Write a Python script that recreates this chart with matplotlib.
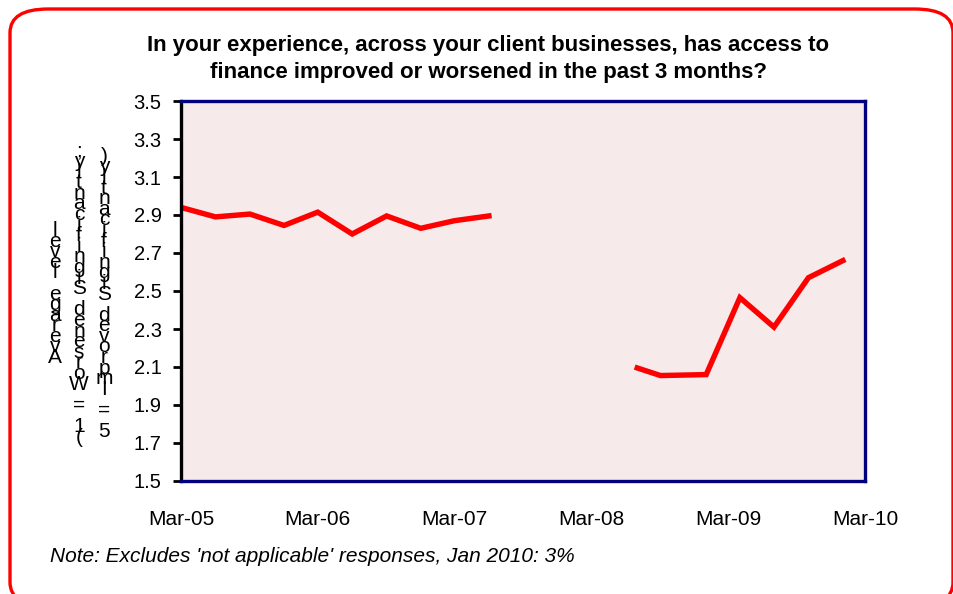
import matplotlib
matplotlib.use('Agg')
import matplotlib.pyplot as plt
from matplotlib.patches import FancyBboxPatch
import pandas as pd

plt.rcParams['font.family'] = ['Liberation Sans', 'DejaVu Sans']

# survey waves before the gap
dates_early = ['2005-03-01', '2005-06-01', '2005-09-01', '2005-12-01', '2006-03-01',
               '2006-06-01', '2006-09-01', '2006-12-01', '2007-03-01', '2007-06-01']
score_early = [2.94, 2.89, 2.905, 2.845, 2.915, 2.80, 2.895, 2.83, 2.87, 2.895]

# survey waves after the gap
dates_late = ['2008-07-01', '2008-09-01', '2009-01-01', '2009-04-01',
              '2009-07-01', '2009-10-01', '2010-01-01']
score_late = [2.095, 2.055, 2.06, 2.465, 2.31, 2.57, 2.66]

year_ticks = ['2005-03-01', '2006-03-01', '2007-03-01', '2008-03-01', '2009-03-01', '2010-03-01']
year_labels = ['Mar-05', 'Mar-06', 'Mar-07', 'Mar-08', 'Mar-09', 'Mar-10']

title = ('In your experience, across your client businesses, has access to\n'
         'finance improved or worsened in the past 3 months?')
note = "Note: Excludes 'not applicable' responses, Jan 2010: 3%"
ylabel_cols = ['Average level', '(1 = Worsened Significantly;', '5 = Improved Significantly)']

W, H = 954, 594
fig = plt.figure(figsize=(W / 100, H / 100), dpi=100)

# red rounded frame around the whole chart
frame = FancyBboxPatch((10 / W, 1 - 606 / H), 943 / W, 597 / H,
                       boxstyle='round,pad=0,rounding_size=0.04',
                       transform=fig.transFigure, fill=False,
                       edgecolor='#ff0000', linewidth=2.4, clip_on=True)
fig.add_artist(frame)

ax = fig.add_axes([181 / W, 1 - 481 / H, (865 - 181) / W, (481 - 101) / H])
ax.set_facecolor('#f7eaea')

navy = '#000080'
ax.plot(pd.to_datetime(dates_early), score_early, color='#ff0000', lw=3.9,
        solid_joinstyle='miter')
ax.plot(pd.to_datetime(dates_late), score_late, color='#ff0000', lw=3.9,
        solid_joinstyle='miter')

ax.set_xlim(pd.Timestamp(year_ticks[0]), pd.Timestamp(year_ticks[-1]))
ax.set_ylim(1.5, 3.5)
ax.set_yticks([1.5 + 0.2 * i for i in range(11)])
ax.yaxis.set_major_formatter(matplotlib.ticker.FormatStrFormatter('%.1f'))
ax.set_xticks(pd.to_datetime(year_ticks))
ax.set_xticklabels(year_labels)

ax.tick_params(axis='y', direction='out', length=6, width=2, color='black',
               labelsize=14.5, pad=8)
ax.tick_params(axis='x', length=0, labelsize=15, pad=21)

for side in ['top', 'right', 'bottom']:
    ax.spines[side].set_color(navy)
    ax.spines[side].set_linewidth(2.4)
ax.spines['left'].set_color('black')
ax.spines['left'].set_linewidth(2.4)

fig.text(488 / W, 1 - 59 / H, title, ha='center', va='center',
         fontsize=16, fontweight='bold', linespacing=1.38)

fig.text(50 / W, 1 - 557 / H, note, ha='left', va='center',
         fontsize=15, style='italic')

# y label written as stacked letters, first letter at the bottom
step = 10.6 / H
yc = 1 - 294 / H
for xpix, label in zip([55, 79, 104], ylabel_cols):
    n = len(label)
    for k, ch in enumerate(label):
        if ch == ' ':
            continue
        y = yc - ((n - 1) / 2 - k) * step
        fig.text(xpix / W, y, ch, ha='center', va='center', fontsize=15)

fig.savefig('out.png', dpi=100)
